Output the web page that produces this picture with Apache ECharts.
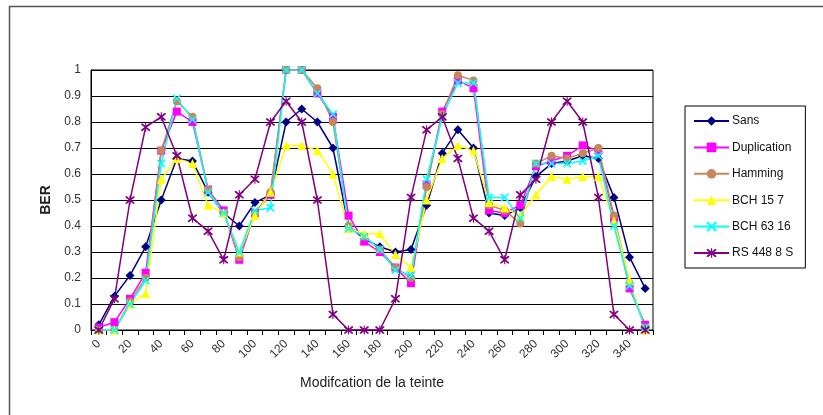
<!DOCTYPE html>
<html>
<head>
<meta charset="utf-8">
<script src="https://cdn.jsdelivr.net/npm/echarts@6/dist/echarts.min.js"></script>
<style>html,body{margin:0;padding:0;background:#fff}#c{width:823px;height:415px}</style>
</head>
<body>
<div id="c"></div>
<script>
const categories = ['0','10','20','30','40','50','60','70','80','90','100','110','120','130','140','150','160','170','180','190','200','210','220','230','240','250','260','270','280','290','300','310','320','330','340','350'];
const sans = [0.02,0.13,0.21,0.32,0.50,0.66,0.65,0.53,0.45,0.40,0.49,0.52,0.80,0.85,0.80,0.70,0.40,0.35,0.32,0.30,0.31,0.48,0.68,0.77,0.70,0.45,0.44,0.47,0.59,0.64,0.65,0.67,0.66,0.51,0.28,0.16];
const duplication = [0.01,0.03,0.12,0.22,0.69,0.84,0.80,0.54,0.46,0.27,0.45,0.52,1.0,1.0,0.91,0.82,0.44,0.34,0.30,0.24,0.18,0.56,0.84,0.96,0.93,0.46,0.45,0.48,0.63,0.65,0.67,0.71,0.69,0.43,0.16,0.02];
const hamming = [0.0,0.0,0.11,0.20,0.69,0.88,0.82,0.54,0.45,0.28,0.45,0.53,1.0,1.0,0.93,0.80,0.40,0.36,0.31,0.24,0.20,0.55,0.83,0.98,0.96,0.48,0.46,0.41,0.64,0.67,0.66,0.68,0.70,0.44,0.18,0.01];
const bch157 = [0.0,0.0,0.10,0.14,0.58,0.66,0.64,0.48,0.45,0.30,0.44,0.53,0.71,0.71,0.69,0.60,0.39,0.37,0.37,0.29,0.24,0.50,0.66,0.71,0.69,0.49,0.47,0.44,0.52,0.59,0.58,0.59,0.59,0.42,0.19,0.0];
const bch6316 = [0.0,0.0,0.10,0.19,0.64,0.89,0.81,0.53,0.45,0.30,0.46,0.47,1.0,1.0,0.91,0.83,0.39,0.36,0.31,0.23,0.21,0.58,0.82,0.95,0.95,0.51,0.51,0.43,0.64,0.64,0.64,0.65,0.67,0.40,0.17,0.01];
const rs = [0.0,0.12,0.50,0.78,0.82,0.67,0.43,0.38,0.27,0.52,0.58,0.80,0.88,0.80,0.50,0.06,0.0,0.0,0.0,0.12,0.51,0.77,0.82,0.66,0.43,0.38,0.27,0.52,0.58,0.80,0.88,0.80,0.51,0.06,0.0,0.0];
const yTicks = ['0','0.1','0.2','0.3','0.4','0.5','0.6','0.7','0.8','0.9','1'];

const xPath = 'path://M0,0 L1.5,0 L5,3.5 L8.5,0 L10,0 L10,1.5 L6.5,5 L10,8.5 L10,10 L8.5,10 L5,6.5 L1.5,10 L0,10 L0,8.5 L3.5,5 L0,1.5 Z';
const starPath = 'path://M0,0 L1.5,0 L5,3.5 L8.5,0 L10,0 L10,1.5 L6.5,5 L10,8.5 L10,10 L8.5,10 L5,6.5 L1.5,10 L0,10 L0,8.5 L3.5,5 L0,1.5 Z M4.4,-1 L5.6,-1 L5.6,11 L4.4,11 Z';

const font = 'Liberation Sans, Arial, sans-serif';
function mk(name, data, color, symbol, size) {
  return {
    name, type: 'line', data, symbol, symbolSize: size,
    lineStyle: { color, width: 1.5 },
    itemStyle: { color, borderWidth: 0 },
    emphasis: { disabled: true }, animation: false
  };
}
const chart = echarts.init(document.getElementById('c'));
chart.setOption({
  backgroundColor: '#fff',
  animation: false,
  graphic: [{ type: 'rect', shape: { x: 9.5, y: 6.5, width: 830, height: 420 }, style: { fill: 'none', stroke: '#555', lineWidth: 1.5 }, silent: true }],
  grid: { left: 91, right: 170, top: 70, bottom: 85, show: true, borderColor: '#000', borderWidth: 1, backgroundColor: 'transparent' },
  legend: {
    orient: 'vertical', left: 685, top: 106, itemWidth: 35, itemHeight: 12, itemGap: 14.4,
    padding: [9, 12, 9, 8], borderColor: '#000', borderWidth: 1,
    textStyle: { fontFamily: font, fontSize: 12, color: '#111', padding: [0, 0, 0, -2] },
    data: ['Sans', 'Duplication', 'Hamming', 'BCH 15 7', 'BCH 63 16', 'RS 448 8 S']
  },
  xAxis: {
    type: 'category', data: categories, boundaryGap: true,
    name: 'Modifcation de la teinte', nameLocation: 'middle', nameGap: 46,
    nameTextStyle: { fontFamily: font, fontSize: 14, color: '#222' },
    axisLine: { lineStyle: { color: '#000', width: 1 } },
    axisTick: { show: true, interval: 0, length: 5, lineStyle: { color: '#000' } },
    axisLabel: { interval: 1, rotate: 45, fontFamily: font, fontSize: 12, color: '#333', margin: 12 },
    splitLine: { show: false }
  },
  yAxis: {
    type: 'value', min: 0, max: 1, interval: 0.1,
    name: 'BER', nameLocation: 'middle', nameGap: 38, nameRotate: 90,
    nameTextStyle: { fontFamily: font, fontSize: 14, fontWeight: 'bold', color: '#222' },
    axisLine: { show: true, lineStyle: { color: '#000' } },
    axisTick: { show: false },
    axisLabel: { fontFamily: font, fontSize: 12, color: '#333', margin: 10, formatter: (v) => yTicks[Math.round(v * 10)] },
    splitLine: { show: true, lineStyle: { color: '#000', width: 1 } }
  },
  series: [
    mk('Sans', sans, '#000080', 'diamond', 9),
    mk('Duplication', duplication, '#FF00FF', 'rect', 8),
    mk('Hamming', hamming, '#C8865A', 'circle', 8),
    mk('BCH 15 7', bch157, '#FFFF00', 'triangle', 9),
    mk('BCH 63 16', bch6316, '#00FFFF', xPath, 8),
    mk('RS 448 8 S', rs, '#800080', starPath, 9)
  ]
});
</script>
</body>
</html>
